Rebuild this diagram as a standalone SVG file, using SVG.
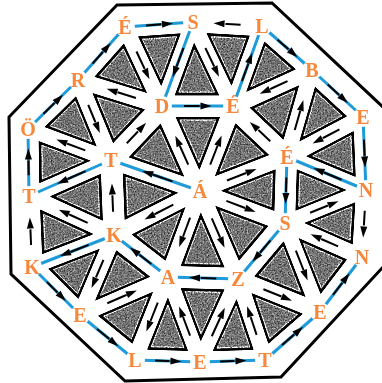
<svg xmlns="http://www.w3.org/2000/svg" xmlns:xlink="http://www.w3.org/1999/xlink" width="382" height="383" viewBox="0 0 382 383">
<style>
.t{fill:#727272;stroke:#000;stroke-width:2.4;stroke-linejoin:miter}
.w{fill:none;stroke:#fff;stroke-width:1}
.b{stroke:#1e9bd8;stroke-width:3;fill:none;stroke-linejoin:round}
.a{fill:none;stroke:#000;stroke-width:2;stroke-dasharray:0 31 22 100;marker-mid:url(#ah)}
.n circle{fill:#fff}
.n text{font-family:"Liberation Serif","Times New Roman",serif;font-weight:bold;font-size:20px;fill:#f7873a;text-anchor:middle}
.frame{fill:#fff;stroke:#000;stroke-width:3;stroke-linejoin:miter}
</style>
<defs>
<marker id="ah" markerUnits="userSpaceOnUse" viewBox="-4 -5 16 10" markerWidth="16" markerHeight="10" refX="-3" refY="0" orient="auto"><path d="M0,-3.5 L11,0 L0,3.5 Z" fill="#000"/></marker>
<filter id="grain" x="-5%" y="-5%" width="110%" height="110%" color-interpolation-filters="sRGB">
<feTurbulence type="fractalNoise" baseFrequency="0.7" numOctaves="2" seed="7" result="n"/>
<feColorMatrix in="n" type="matrix" values="1 1 1 0 -1  1 1 1 0 -1  1 1 1 0 -1  0 0 0 0 1" result="g"/>
<feComposite in="SourceGraphic" in2="g" operator="arithmetic" k1="1.3" k2="0.35" k3="0" k4="0"/>
</filter>
<polygon id="F1" points="200,191 162,106 233,106" vector-effect="non-scaling-stroke"/>
<polygon id="F2" points="200,191 233,106 287,157" vector-effect="non-scaling-stroke"/>
<polygon id="F3" points="200,191 287,157 285,223" vector-effect="non-scaling-stroke"/>
<polygon id="F4" points="200,191 285,223 238,279" vector-effect="non-scaling-stroke"/>
<polygon id="F5" points="200,191 238,279 168,277" vector-effect="non-scaling-stroke"/>
<polygon id="F6" points="200,191 168,277 114,235" vector-effect="non-scaling-stroke"/>
<polygon id="F7" points="200,191 114,235 111,160" vector-effect="non-scaling-stroke"/>
<polygon id="F8" points="200,191 111,160 162,106" vector-effect="non-scaling-stroke"/>
<polygon id="G0" points="162,106 233,106 193,22" vector-effect="non-scaling-stroke"/>
<polygon id="G1" points="233,106 287,157 312,70" vector-effect="non-scaling-stroke"/>
<polygon id="G2" points="287,157 285,223 366,190" vector-effect="non-scaling-stroke"/>
<polygon id="G3" points="285,223 238,279 320,312" vector-effect="non-scaling-stroke"/>
<polygon id="G4" points="238,279 168,277 200,362" vector-effect="non-scaling-stroke"/>
<polygon id="G5" points="168,277 114,235 80,315" vector-effect="non-scaling-stroke"/>
<polygon id="G6" points="114,235 111,160 29,196" vector-effect="non-scaling-stroke"/>
<polygon id="G7" points="111,160 162,106 78,80" vector-effect="non-scaling-stroke"/>
<polygon id="A0" points="162,106 78,80 125,27" vector-effect="non-scaling-stroke"/>
<polygon id="B0" points="162,106 125,27 193,22" vector-effect="non-scaling-stroke"/>
<polygon id="A1" points="233,106 193,22 262,26" vector-effect="non-scaling-stroke"/>
<polygon id="B1" points="233,106 262,26 312,70" vector-effect="non-scaling-stroke"/>
<polygon id="A2" points="287,157 312,70 363,117" vector-effect="non-scaling-stroke"/>
<polygon id="B2" points="287,157 363,117 366,190" vector-effect="non-scaling-stroke"/>
<polygon id="A3" points="285,223 366,190 362,257" vector-effect="non-scaling-stroke"/>
<polygon id="B3" points="285,223 362,257 320,312" vector-effect="non-scaling-stroke"/>
<polygon id="A4" points="238,279 320,312 265,360" vector-effect="non-scaling-stroke"/>
<polygon id="B4" points="238,279 265,360 200,362" vector-effect="non-scaling-stroke"/>
<polygon id="A5" points="168,277 200,362 135,360" vector-effect="non-scaling-stroke"/>
<polygon id="B5" points="168,277 135,360 80,315" vector-effect="non-scaling-stroke"/>
<polygon id="A6" points="114,235 80,315 32,267" vector-effect="non-scaling-stroke"/>
<polygon id="B6" points="114,235 32,267 29,196" vector-effect="non-scaling-stroke"/>
<polygon id="A7" points="111,160 29,196 28,129" vector-effect="non-scaling-stroke"/>
<polygon id="B7" points="111,160 28,129 78,80" vector-effect="non-scaling-stroke"/>
</defs>

<rect width="382" height="383" fill="#fff"/>
<polygon id="frame" class="frame" points="117,5 272,3 384,108 384,266 281,377 125,381 11,274 9,117"/>

<g id="triangles" filter="url(#grain)">
<use href="#F1" class="t" transform="translate(198.3 134.3) scale(.57) translate(-198.3 -134.3)"/><use href="#F1" class="w" transform="translate(198.3 134.3) scale(.5) translate(-198.3 -134.3)"/>
<use href="#F2" class="t" transform="translate(240 151.3) scale(.57) translate(-240 -151.3)"/><use href="#F2" class="w" transform="translate(240 151.3) scale(.5) translate(-240 -151.3)"/>
<use href="#F3" class="t" transform="translate(257.3 190.3) scale(.57) translate(-257.3 -190.3)"/><use href="#F3" class="w" transform="translate(257.3 190.3) scale(.5) translate(-257.3 -190.3)"/>
<use href="#F4" class="t" transform="translate(241 231) scale(.57) translate(-241 -231)"/><use href="#F4" class="w" transform="translate(241 231) scale(.5) translate(-241 -231)"/>
<use href="#F5" class="t" transform="translate(202 249) scale(.57) translate(-202 -249)"/><use href="#F5" class="w" transform="translate(202 249) scale(.5) translate(-202 -249)"/>
<use href="#F6" class="t" transform="translate(160.7 234.3) scale(.57) translate(-160.7 -234.3)"/><use href="#F6" class="w" transform="translate(160.7 234.3) scale(.5) translate(-160.7 -234.3)"/>
<use href="#F7" class="t" transform="translate(141.7 195.3) scale(.57) translate(-141.7 -195.3)"/><use href="#F7" class="w" transform="translate(141.7 195.3) scale(.5) translate(-141.7 -195.3)"/>
<use href="#F8" class="t" transform="translate(157.7 152.3) scale(.57) translate(-157.7 -152.3)"/><use href="#F8" class="w" transform="translate(157.7 152.3) scale(.5) translate(-157.7 -152.3)"/>
<use href="#G0" class="t" transform="translate(196 78) scale(.57) translate(-196 -78)"/><use href="#G0" class="w" transform="translate(196 78) scale(.5) translate(-196 -78)"/>
<use href="#G1" class="t" transform="translate(277.3 111) scale(.57) translate(-277.3 -111)"/><use href="#G1" class="w" transform="translate(277.3 111) scale(.5) translate(-277.3 -111)"/>
<use href="#G2" class="t" transform="translate(312.7 190) scale(.57) translate(-312.7 -190)"/><use href="#G2" class="w" transform="translate(312.7 190) scale(.5) translate(-312.7 -190)"/>
<use href="#G3" class="t" transform="translate(281 271.3) scale(.57) translate(-281 -271.3)"/><use href="#G3" class="w" transform="translate(281 271.3) scale(.5) translate(-281 -271.3)"/>
<use href="#G4" class="t" transform="translate(202 306) scale(.57) translate(-202 -306)"/><use href="#G4" class="w" transform="translate(202 306) scale(.5) translate(-202 -306)"/>
<use href="#G5" class="t" transform="translate(120.7 275.7) scale(.57) translate(-120.7 -275.7)"/><use href="#G5" class="w" transform="translate(120.7 275.7) scale(.5) translate(-120.7 -275.7)"/>
<use href="#G6" class="t" transform="translate(84.7 197) scale(.57) translate(-84.7 -197)"/><use href="#G6" class="w" transform="translate(84.7 197) scale(.5) translate(-84.7 -197)"/>
<use href="#G7" class="t" transform="translate(117 115.3) scale(.57) translate(-117 -115.3)"/><use href="#G7" class="w" transform="translate(117 115.3) scale(.5) translate(-117 -115.3)"/>
<use href="#A0" class="t" transform="translate(121.7 71) scale(.57) translate(-121.7 -71)"/><use href="#A0" class="w" transform="translate(121.7 71) scale(.5) translate(-121.7 -71)"/>
<use href="#B0" class="t" transform="translate(160 51.7) scale(.57) translate(-160 -51.7)"/><use href="#B0" class="w" transform="translate(160 51.7) scale(.5) translate(-160 -51.7)"/>
<use href="#A1" class="t" transform="translate(229.3 51.3) scale(.57) translate(-229.3 -51.3)"/><use href="#A1" class="w" transform="translate(229.3 51.3) scale(.5) translate(-229.3 -51.3)"/>
<use href="#B1" class="t" transform="translate(269 67.3) scale(.57) translate(-269 -67.3)"/><use href="#B1" class="w" transform="translate(269 67.3) scale(.5) translate(-269 -67.3)"/>
<use href="#A2" class="t" transform="translate(320.7 114.7) scale(.57) translate(-320.7 -114.7)"/><use href="#A2" class="w" transform="translate(320.7 114.7) scale(.5) translate(-320.7 -114.7)"/>
<use href="#B2" class="t" transform="translate(338.7 154.7) scale(.57) translate(-338.7 -154.7)"/><use href="#B2" class="w" transform="translate(338.7 154.7) scale(.5) translate(-338.7 -154.7)"/>
<use href="#A3" class="t" transform="translate(337.7 223.3) scale(.57) translate(-337.7 -223.3)"/><use href="#A3" class="w" transform="translate(337.7 223.3) scale(.5) translate(-337.7 -223.3)"/>
<use href="#B3" class="t" transform="translate(322.3 264) scale(.57) translate(-322.3 -264)"/><use href="#B3" class="w" transform="translate(322.3 264) scale(.5) translate(-322.3 -264)"/>
<use href="#A4" class="t" transform="translate(274.3 317) scale(.57) translate(-274.3 -317)"/><use href="#A4" class="w" transform="translate(274.3 317) scale(.5) translate(-274.3 -317)"/>
<use href="#B4" class="t" transform="translate(234.3 333.7) scale(.57) translate(-234.3 -333.7)"/><use href="#B4" class="w" transform="translate(234.3 333.7) scale(.5) translate(-234.3 -333.7)"/>
<use href="#A5" class="t" transform="translate(167.7 333) scale(.57) translate(-167.7 -333)"/><use href="#A5" class="w" transform="translate(167.7 333) scale(.5) translate(-167.7 -333)"/>
<use href="#B5" class="t" transform="translate(127.7 317.3) scale(.57) translate(-127.7 -317.3)"/><use href="#B5" class="w" transform="translate(127.7 317.3) scale(.5) translate(-127.7 -317.3)"/>
<use href="#A6" class="t" transform="translate(75.3 272.3) scale(.57) translate(-75.3 -272.3)"/><use href="#A6" class="w" transform="translate(75.3 272.3) scale(.5) translate(-75.3 -272.3)"/>
<use href="#B6" class="t" transform="translate(58.3 232.7) scale(.57) translate(-58.3 -232.7)"/><use href="#B6" class="w" transform="translate(58.3 232.7) scale(.5) translate(-58.3 -232.7)"/>
<use href="#A7" class="t" transform="translate(56 161.7) scale(.57) translate(-56 -161.7)"/><use href="#A7" class="w" transform="translate(56 161.7) scale(.5) translate(-56 -161.7)"/>
<use href="#B7" class="t" transform="translate(72.3 123) scale(.57) translate(-72.3 -123)"/><use href="#B7" class="w" transform="translate(72.3 123) scale(.5) translate(-72.3 -123)"/>
</g>

<g id="connectors">
<polyline id="solution-path" class="b" points="200,191 111,160 29,196 28,129 78,80 125,27 193,22 162,106 233,106 262,26 312,70 363,117 366,190 287,157 285,223 238,279 168,277 114,235 32,267 80,315 135,360 200,362 265,360 320,312 362,257"/>
<g id="arrows">
<path class="a" pathLength="100" d="M200,191 L181,148.5 L162,106"/>
<path class="a" pathLength="100" d="M200,191 L216.5,148.5 L233,106"/>
<path class="a" pathLength="100" d="M200,191 L243.5,174 L287,157"/>
<path class="a" pathLength="100" d="M200,191 L242.5,207 L285,223"/>
<path class="a" pathLength="100" d="M200,191 L219,235 L238,279"/>
<path class="a" pathLength="100" d="M200,191 L184,234 L168,277"/>
<path class="a" pathLength="100" d="M200,191 L157,213 L114,235"/>
<path class="a" pathLength="100" d="M200,191 L155.5,175.5 L111,160"/>
<path class="a" pathLength="100" d="M162,106 L197.5,106 L233,106"/>
<path class="a" pathLength="100" d="M287,157 L260,131.5 L233,106"/>
<path class="a" pathLength="100" d="M287,157 L286,190 L285,223"/>
<path class="a" pathLength="100" d="M285,223 L261.5,251 L238,279"/>
<path class="a" pathLength="100" d="M238,279 L203,278 L168,277"/>
<path class="a" pathLength="100" d="M168,277 L141,256 L114,235"/>
<path class="a" pathLength="100" d="M114,235 L112.5,197.5 L111,160"/>
<path class="a" pathLength="100" d="M111,160 L136.5,133 L162,106"/>
<path class="a" pathLength="100" d="M162,106 L120,93 L78,80"/>
<path class="a" pathLength="100" d="M125,27 L143.5,66.5 L162,106"/>
<path class="a" pathLength="100" d="M193,22 L177.5,64 L162,106"/>
<path class="a" pathLength="100" d="M193,22 L213,64 L233,106"/>
<path class="a" pathLength="100" d="M233,106 L247.5,66 L262,26"/>
<path class="a" pathLength="100" d="M312,70 L272.5,88 L233,106"/>
<path class="a" pathLength="100" d="M287,157 L299.5,113.5 L312,70"/>
<path class="a" pathLength="100" d="M363,117 L325,137 L287,157"/>
<path class="a" pathLength="100" d="M366,190 L326.5,173.5 L287,157"/>
<path class="a" pathLength="100" d="M285,223 L325.5,206.5 L366,190"/>
<path class="a" pathLength="100" d="M362,257 L323.5,240 L285,223"/>
<path class="a" pathLength="100" d="M285,223 L302.5,267.5 L320,312"/>
<path class="a" pathLength="100" d="M238,279 L279,295.5 L320,312"/>
<path class="a" pathLength="100" d="M265,360 L251.5,319.5 L238,279"/>
<path class="a" pathLength="100" d="M200,362 L219,320.5 L238,279"/>
<path class="a" pathLength="100" d="M200,362 L184,319.5 L168,277"/>
<path class="a" pathLength="100" d="M168,277 L151.5,318.5 L135,360"/>
<path class="a" pathLength="100" d="M80,315 L124,296 L168,277"/>
<path class="a" pathLength="100" d="M114,235 L97,275 L80,315"/>
<path class="a" pathLength="100" d="M114,235 L73,251 L32,267"/>
<path class="a" pathLength="100" d="M114,235 L71.5,215.5 L29,196"/>
<path class="a" pathLength="100" d="M111,160 L70,178 L29,196"/>
<path class="a" pathLength="100" d="M111,160 L69.5,144.5 L28,129"/>
<path class="a" pathLength="100" d="M78,80 L94.5,120 L111,160"/>
<path class="a" pathLength="100" d="M125,27 L159,24.5 L193,22"/>
<path class="a" pathLength="100" d="M262,26 L227.5,24 L193,22"/>
<path class="a" pathLength="100" d="M262,26 L287,48 L312,70"/>
<path class="a" pathLength="100" d="M312,70 L337.5,93.5 L363,117"/>
<path class="a" pathLength="100" d="M363,117 L364.5,153.5 L366,190"/>
<path class="a" pathLength="100" d="M366,190 L364,223.5 L362,257"/>
<path class="a" pathLength="100" d="M320,312 L341,284.5 L362,257"/>
<path class="a" pathLength="100" d="M265,360 L292.5,336 L320,312"/>
<path class="a" pathLength="100" d="M200,362 L232.5,361 L265,360"/>
<path class="a" pathLength="100" d="M135,360 L167.5,361 L200,362"/>
<path class="a" pathLength="100" d="M80,315 L107.5,337.5 L135,360"/>
<path class="a" pathLength="100" d="M32,267 L56,291 L80,315"/>
<path class="a" pathLength="100" d="M32,267 L30.5,231.5 L29,196"/>
<path class="a" pathLength="100" d="M29,196 L28.5,162.5 L28,129"/>
<path class="a" pathLength="100" d="M28,129 L53,104.5 L78,80"/>
<path class="a" pathLength="100" d="M78,80 L101.5,53.5 L125,27"/>
</g>
</g>

<g id="nodes">
<g id="n-center-A" class="n"><circle cx="200" cy="191" r="10"/><text x="200" y="198">Á</text></g>
<g id="n-i0-D" class="n"><circle cx="162" cy="106" r="10"/><text x="162" y="113">D</text></g>
<g id="n-i1-E" class="n"><circle cx="233" cy="106" r="10"/><text x="233" y="113">É</text></g>
<g id="n-i2-E" class="n"><circle cx="287" cy="157" r="10"/><text x="287" y="164">É</text></g>
<g id="n-i3-S" class="n"><circle cx="285" cy="223" r="10"/><text x="285" y="230">S</text></g>
<g id="n-i4-Z" class="n"><circle cx="238" cy="279" r="10"/><text x="238" y="286">Z</text></g>
<g id="n-i5-A" class="n"><circle cx="168" cy="277" r="10"/><text x="168" y="284">A</text></g>
<g id="n-i6-K" class="n"><circle cx="114" cy="235" r="10"/><text x="114" y="242">K</text></g>
<g id="n-i7-T" class="n"><circle cx="111" cy="160" r="10"/><text x="111" y="167">T</text></g>
<g id="n-o0-E" class="n"><circle cx="125" cy="27" r="10"/><text x="125" y="34">É</text></g>
<g id="n-o1-S" class="n"><circle cx="193" cy="22" r="10"/><text x="193" y="29">S</text></g>
<g id="n-o2-L" class="n"><circle cx="262" cy="26" r="10"/><text x="262" y="33">L</text></g>
<g id="n-o3-B" class="n"><circle cx="312" cy="70" r="10"/><text x="312" y="77">B</text></g>
<g id="n-o4-E" class="n"><circle cx="363" cy="117" r="10"/><text x="363" y="124">E</text></g>
<g id="n-o5-N" class="n"><circle cx="366" cy="190" r="10"/><text x="366" y="197">N</text></g>
<g id="n-o6-N" class="n"><circle cx="362" cy="257" r="10"/><text x="362" y="264">N</text></g>
<g id="n-o7-E" class="n"><circle cx="320" cy="312" r="10"/><text x="320" y="319">E</text></g>
<g id="n-o8-T" class="n"><circle cx="265" cy="360" r="10"/><text x="265" y="367">T</text></g>
<g id="n-o9-E" class="n"><circle cx="200" cy="362" r="10"/><text x="200" y="369">E</text></g>
<g id="n-o10-L" class="n"><circle cx="135" cy="360" r="10"/><text x="135" y="367">L</text></g>
<g id="n-o11-E" class="n"><circle cx="80" cy="315" r="10"/><text x="80" y="322">E</text></g>
<g id="n-o12-K" class="n"><circle cx="32" cy="267" r="10"/><text x="32" y="274">K</text></g>
<g id="n-o13-T" class="n"><circle cx="29" cy="196" r="10"/><text x="29" y="203">T</text></g>
<g id="n-o14-O" class="n"><circle cx="28" cy="129" r="10"/><text x="28" y="136">Ö</text></g>
<g id="n-o15-R" class="n"><circle cx="78" cy="80" r="10"/><text x="78" y="87">R</text></g>
</g>
</svg>
